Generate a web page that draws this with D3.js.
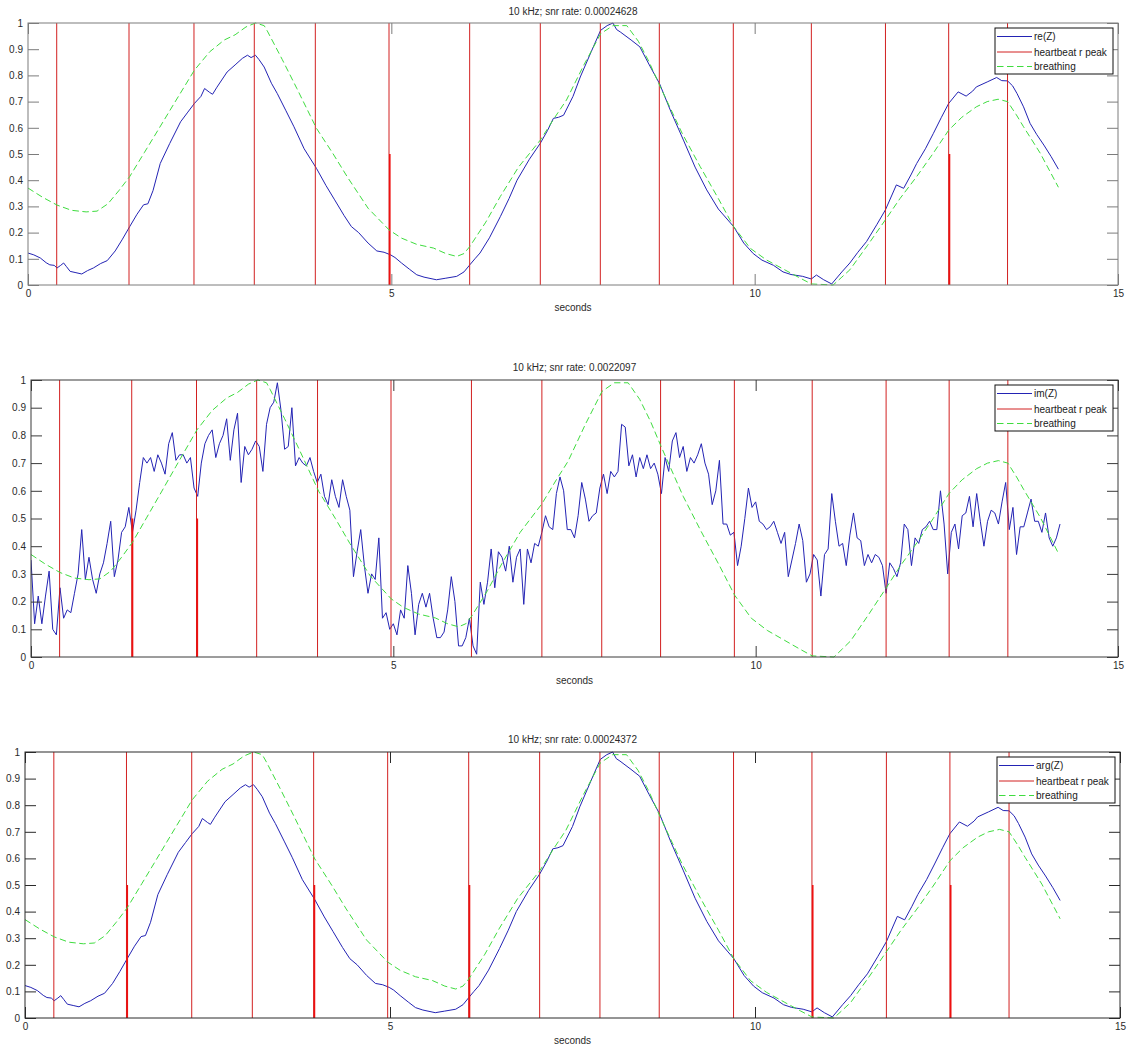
<!DOCTYPE html>
<html>
<head>
<meta charset="utf-8">
<script src="https://cdn.jsdelivr.net/npm/d3@7"></script>
<style>
  html, body { margin: 0; padding: 0; background: #fff; }
  svg { display: block; font-family: "Liberation Sans", Arial, sans-serif; }
</style>
</head>
<body>
<svg id="fig" width="1127" height="1049"></svg>
<script>
// ---- data ---------------------------------------------------------------

// R-peak instants of the ECG (seconds)
const beatTimes = [0.395, 1.39, 2.284, 3.114, 3.954, 4.968, 6.078, 7.05, 7.876,
                   8.688, 9.706, 10.78, 11.80, 12.67, 13.48];

// beats whose pulse also holds a half-amplitude sample, per subplot
const halfPeakTimes = [
  [4.968, 12.67],
  [1.39, 2.284],
  [1.39, 3.954, 6.078, 10.78, 12.67]
];
const halfPeakLevel = 0.5;

// normalised breathing reference
const breathT = [0.00, 0.20, 0.40, 0.60, 0.80, 0.95, 1.10, 1.25, 1.40, 1.60, 1.80, 2.00,
  2.29, 2.50, 2.70, 2.85, 3.00, 3.13, 3.25, 3.30, 3.50, 3.70, 3.97, 4.20, 4.40, 4.68,
  4.97, 5.14, 5.35, 5.58, 5.75, 5.90, 6.00, 6.08, 6.30, 6.50, 6.75, 7.05, 7.25, 7.41,
  7.65, 7.88, 8.05, 8.24, 8.40, 8.55, 8.69, 9.00, 9.25, 9.50, 9.71, 9.94, 10.16, 10.40,
  10.62, 10.78, 11.08, 11.20, 11.31, 11.55, 11.80, 12.00, 12.23, 12.45, 12.67, 12.85,
  13.05, 13.20, 13.35, 13.48, 13.60, 13.70, 13.93, 14.18];
const breathV = [0.370, 0.335, 0.305, 0.285, 0.279, 0.282, 0.310, 0.360, 0.414, 0.505,
  0.596, 0.688, 0.820, 0.890, 0.935, 0.955, 0.985, 1.000, 0.990, 0.966, 0.860, 0.750,
  0.598, 0.500, 0.410, 0.293, 0.210, 0.179, 0.155, 0.141, 0.120, 0.109, 0.120, 0.147,
  0.240, 0.338, 0.450, 0.553, 0.640, 0.706, 0.840, 0.959, 0.990, 0.990, 0.930, 0.850,
  0.763, 0.580, 0.452, 0.330, 0.223, 0.140, 0.096, 0.060, 0.027, 0.004, 0.000, 0.030,
  0.058, 0.150, 0.249, 0.330, 0.414, 0.500, 0.591, 0.640, 0.680, 0.700, 0.709, 0.700,
  0.650, 0.604, 0.503, 0.373];

// normalised real part of the impedance
const reT = [0.00, 0.08, 0.17, 0.25, 0.30, 0.36, 0.40, 0.45, 0.49, 0.53, 0.58, 0.66,
  0.74, 0.82, 0.90, 1.00, 1.09, 1.20, 1.30, 1.40, 1.50, 1.59, 1.65, 1.72, 1.82, 1.95,
  2.10, 2.20, 2.29, 2.38, 2.43, 2.50, 2.54, 2.60, 2.74, 2.85, 2.95, 3.02, 3.07, 3.13,
  3.18, 3.25, 3.35, 3.43, 3.55, 3.66, 3.80, 3.97, 4.10, 4.22, 4.35, 4.45, 4.55, 4.68,
  4.80, 4.90, 4.99, 5.05, 5.14, 5.25, 5.35, 5.45, 5.62, 5.75, 5.90, 6.00, 6.08, 6.15,
  6.22, 6.35, 6.50, 6.62, 6.73, 6.90, 7.05, 7.15, 7.23, 7.30, 7.37, 7.50, 7.60, 7.75,
  7.88, 7.97, 8.05, 8.10, 8.15, 8.30, 8.42, 8.55, 8.69, 8.85, 9.02, 9.18, 9.34, 9.50,
  9.71, 9.85, 9.98, 10.10, 10.26, 10.39, 10.50, 10.66, 10.78, 10.85, 10.95, 11.06,
  11.20, 11.31, 11.42, 11.54, 11.68, 11.80, 11.95, 12.05, 12.15, 12.23, 12.35, 12.46,
  12.57, 12.67, 12.80, 12.91, 13.00, 13.05, 13.20, 13.33, 13.40, 13.48, 13.55, 13.61,
  13.70, 13.79, 13.88, 13.98, 14.08, 14.18];
const reV = [0.122, 0.115, 0.103, 0.085, 0.077, 0.075, 0.065, 0.075, 0.084, 0.070,
  0.052, 0.047, 0.042, 0.055, 0.065, 0.082, 0.093, 0.130, 0.175, 0.223, 0.270, 0.306,
  0.310, 0.360, 0.464, 0.540, 0.623, 0.660, 0.693, 0.720, 0.750, 0.735, 0.728, 0.755,
  0.813, 0.840, 0.865, 0.877, 0.868, 0.877, 0.860, 0.832, 0.770, 0.731, 0.665, 0.604,
  0.520, 0.445, 0.380, 0.325, 0.265, 0.223, 0.200, 0.160, 0.130, 0.125, 0.115, 0.105,
  0.084, 0.060, 0.039, 0.030, 0.020, 0.026, 0.033, 0.050, 0.077, 0.100, 0.122, 0.180,
  0.261, 0.330, 0.400, 0.480, 0.541, 0.590, 0.636, 0.640, 0.648, 0.720, 0.794, 0.890,
  0.972, 0.990, 1.000, 0.975, 0.966, 0.935, 0.909, 0.840, 0.769, 0.660, 0.553, 0.450,
  0.363, 0.290, 0.223, 0.160, 0.120, 0.095, 0.075, 0.050, 0.040, 0.033, 0.023, 0.038,
  0.020, 0.004, 0.050, 0.084, 0.125, 0.166, 0.230, 0.287, 0.382, 0.369, 0.420, 0.464,
  0.520, 0.579, 0.640, 0.693, 0.737, 0.721, 0.740, 0.756, 0.775, 0.792, 0.780, 0.779,
  0.760, 0.731, 0.680, 0.617, 0.575, 0.534, 0.490, 0.442];

// normalised phase: follows the real part sample for sample
const argT = reT;
const argV = reV;

// normalised imaginary part, one sample every imStep seconds from t = 0
const imStep = 0.05;
const imV = [
  0.35, 0.12, 0.22, 0.12, 0.22, 0.31, 0.10, 0.08, 0.25, 0.14,
  0.17, 0.16, 0.23, 0.30, 0.46, 0.28, 0.36, 0.28, 0.23, 0.30,
  0.34, 0.41, 0.49, 0.29, 0.35, 0.45, 0.47, 0.54, 0.45, 0.53,
  0.63, 0.72, 0.70, 0.72, 0.67, 0.73, 0.70, 0.66, 0.77, 0.81,
  0.71, 0.73, 0.73, 0.70, 0.72, 0.61, 0.58, 0.70, 0.77, 0.80,
  0.82, 0.72, 0.77, 0.80, 0.86, 0.71, 0.82, 0.88, 0.63, 0.76,
  0.73, 0.75, 0.78, 0.76, 0.67, 0.84, 0.90, 0.92, 0.99, 0.89,
  0.75, 0.76, 0.90, 0.69, 0.72, 0.70, 0.69, 0.72, 0.67, 0.63,
  0.66, 0.58, 0.55, 0.64, 0.58, 0.54, 0.64, 0.58, 0.53, 0.29,
  0.38, 0.46, 0.33, 0.23, 0.30, 0.28, 0.43, 0.14, 0.16, 0.10,
  0.12, 0.08, 0.17, 0.14, 0.33, 0.23, 0.08, 0.19, 0.23, 0.18,
  0.23, 0.14, 0.07, 0.07, 0.09, 0.17, 0.29, 0.20, 0.04, 0.04,
  0.07, 0.14, 0.04, 0.01, 0.27, 0.19, 0.27, 0.39, 0.25, 0.38,
  0.36, 0.31, 0.40, 0.27, 0.36, 0.39, 0.19, 0.39, 0.34, 0.41,
  0.40, 0.45, 0.51, 0.47, 0.46, 0.59, 0.65, 0.60, 0.46, 0.46,
  0.43, 0.51, 0.63, 0.57, 0.49, 0.51, 0.52, 0.61, 0.66, 0.59,
  0.67, 0.65, 0.67, 0.84, 0.83, 0.69, 0.73, 0.65, 0.72, 0.68,
  0.73, 0.68, 0.70, 0.66, 0.59, 0.72, 0.67, 0.78, 0.81, 0.72,
  0.76, 0.67, 0.72, 0.70, 0.73, 0.77, 0.70, 0.66, 0.55, 0.60,
  0.71, 0.48, 0.48, 0.44, 0.45, 0.33, 0.40, 0.50, 0.61, 0.54,
  0.56, 0.49, 0.48, 0.46, 0.47, 0.49, 0.45, 0.41, 0.45, 0.29,
  0.35, 0.41, 0.48, 0.42, 0.27, 0.30, 0.37, 0.35, 0.22, 0.37,
  0.39, 0.59, 0.49, 0.40, 0.41, 0.33, 0.44, 0.52, 0.43, 0.42,
  0.33, 0.37, 0.34, 0.37, 0.36, 0.33, 0.23, 0.34, 0.32, 0.29,
  0.34, 0.48, 0.46, 0.33, 0.43, 0.41, 0.46, 0.47, 0.49, 0.46,
  0.46, 0.60, 0.48, 0.30, 0.45, 0.48, 0.39, 0.51, 0.52, 0.58,
  0.47, 0.59, 0.49, 0.40, 0.49, 0.53, 0.52, 0.48, 0.56, 0.63,
  0.46, 0.54, 0.37, 0.47, 0.47, 0.52, 0.57, 0.49, 0.49, 0.45,
  0.52, 0.43, 0.40, 0.43, 0.48];

// labels
const titles = ["10 kHz; snr rate: 0.00024628",
                "10 kHz; snr rate: 0.0022097",
                "10 kHz; snr rate: 0.00024372"];
const signalNames = ["re(Z)", "im(Z)", "arg(Z)"];
const beatName = "heartbeat r peak";
const breathName = "breathing";
const xLabel = "seconds";
const xTicks = [0, 5, 10, 15];
const xTickLabels = ["0", "5", "10", "15"];
const yTicks = [0, 0.1, 0.2, 0.3, 0.4, 0.5, 0.6, 0.7, 0.8, 0.9, 1];
const yTickLabels = ["0", "0.1", "0.2", "0.3", "0.4", "0.5", "0.6", "0.7", "0.8", "0.9", "1"];

// ---- drawing ------------------------------------------------------------

const COL_SIG = "#2323b4";
const COL_BEAT = "#d22020";
const COL_HALF = "#ee1010";
const COL_BREATH = "#3fdc3f";
const DASH = "6.5,3.5";

const signals = [
  reT.map((t, i) => [t, reV[i]]),
  imV.map((v, i) => [i * imStep, v]),
  argT.map((t, i) => [t, argV[i]])
];
const breathing = breathT.map((t, i) => [t, breathV[i]]);

const layout = [
  { left: 28, right: 1118, top: 23,  bottom: 285,  axis: "#7c7c7c", titleY: 15,  labelY: 311 },
  { left: 31, right: 1118, top: 380, bottom: 657,  axis: "#3a3a3a", titleY: 371, labelY: 684 },
  { left: 25, right: 1120, top: 752, bottom: 1018, axis: "#2a2a2a", titleY: 743, labelY: 1044 }
];

const svg = d3.select("#fig");

layout.forEach((L, p) => {
  const x = d3.scaleLinear().domain([0, 15]).range([L.left, L.right]);
  const y = d3.scaleLinear().domain([0, 1]).range([L.bottom, L.top]);
  const g = svg.append("g");

  const clipId = "clip" + p;
  svg.append("clipPath").attr("id", clipId)
    .append("rect")
    .attr("x", L.left).attr("y", L.top - 1)
    .attr("width", L.right - L.left).attr("height", L.bottom - L.top + 2);

  const plot = g.append("g").attr("clip-path", `url(#${clipId})`);
  const line = d3.line().x(d => x(d[0])).y(d => y(d[1]));

  // measured impedance component
  plot.append("path")
    .datum(signals[p])
    .attr("fill", "none")
    .attr("stroke", COL_SIG)
    .attr("stroke-width", 1)
    .attr("d", line);

  // heartbeat R-peak pulses
  plot.selectAll("line.beat")
    .data(beatTimes)
    .join("line")
    .attr("class", "beat")
    .attr("x1", d => x(d)).attr("x2", d => x(d))
    .attr("y1", y(0)).attr("y2", y(1))
    .attr("stroke", COL_BEAT)
    .attr("stroke-width", 1);

  plot.selectAll("line.half")
    .data(halfPeakTimes[p])
    .join("line")
    .attr("class", "half")
    .attr("x1", d => x(d) + 0.8).attr("x2", d => x(d) + 0.8)
    .attr("y1", y(0)).attr("y2", y(halfPeakLevel))
    .attr("stroke", COL_HALF)
    .attr("stroke-width", 1.6);

  // breathing reference
  plot.append("path")
    .datum(breathing)
    .attr("fill", "none")
    .attr("stroke", COL_BREATH)
    .attr("stroke-width", 1)
    .attr("stroke-dasharray", DASH)
    .attr("d", line);

  // axes box with inward ticks on every side
  const tick = 11;
  const styleAxis = sel => {
    sel.select(".domain").remove();
    sel.selectAll(".tick line").attr("stroke", L.axis);
    sel.selectAll(".tick text")
      .attr("fill", "#2a2a2a")
      .attr("font-size", 10)
      .attr("font-family", "'Liberation Sans', Arial, sans-serif");
  };

  g.append("g").attr("transform", `translate(${L.left},0)`)
    .call(d3.axisLeft(y).tickValues(yTicks).tickFormat((d, i) => yTickLabels[i])
      .tickSizeInner(-tick).tickSizeOuter(0).tickPadding(5))
    .call(styleAxis);
  g.append("g").attr("transform", `translate(${L.right},0)`)
    .call(d3.axisRight(y).tickValues(yTicks).tickFormat("")
      .tickSizeInner(-tick).tickSizeOuter(0))
    .call(styleAxis);
  g.append("g").attr("transform", `translate(0,${L.bottom})`)
    .call(d3.axisBottom(x).tickValues(xTicks).tickFormat((d, i) => xTickLabels[i])
      .tickSizeInner(-tick).tickSizeOuter(0).tickPadding(5))
    .call(styleAxis);
  g.append("g").attr("transform", `translate(0,${L.top})`)
    .call(d3.axisTop(x).tickValues(xTicks).tickFormat("")
      .tickSizeInner(-tick).tickSizeOuter(0))
    .call(styleAxis);

  g.append("rect")
    .attr("x", L.left).attr("y", L.top)
    .attr("width", L.right - L.left).attr("height", L.bottom - L.top)
    .attr("fill", "none").attr("stroke", L.axis).attr("stroke-width", 1);

  // title and axis label
  g.append("text")
    .attr("x", (L.left + L.right) / 2).attr("y", L.titleY)
    .attr("text-anchor", "middle").attr("font-size", 10).attr("fill", "#2a2a2a")
    .text(titles[p]);
  g.append("text")
    .attr("x", (L.left + L.right) / 2).attr("y", L.labelY)
    .attr("text-anchor", "middle").attr("font-size", 10).attr("fill", "#2a2a2a")
    .text(xLabel);

  // legend
  const lw = 118, lh = 46;
  const lx = L.right - 5 - lw, ly = L.top + 5;
  const leg = g.append("g");
  leg.append("rect")
    .attr("x", lx).attr("y", ly).attr("width", lw).attr("height", lh)
    .attr("fill", "#fff").attr("stroke", "#111").attr("stroke-width", 1);
  const entries = [
    { name: signalNames[p], color: COL_SIG, dash: null },
    { name: beatName, color: COL_BEAT, dash: null },
    { name: breathName, color: COL_BREATH, dash: DASH }
  ];
  const rowY = [8.5, 24, 38.5];
  entries.forEach((e, i) => {
    const yy = ly + rowY[i];
    leg.append("line")
      .attr("x1", lx + 2).attr("x2", lx + 37)
      .attr("y1", yy).attr("y2", yy)
      .attr("stroke", e.color).attr("stroke-width", 1)
      .attr("stroke-dasharray", e.dash);
    leg.append("text")
      .attr("x", lx + 39).attr("y", yy)
      .attr("dy", "0.35em").attr("font-size", 10).attr("fill", "#1a1a1a")
      .text(e.name);
  });
});
</script>
</body>
</html>
